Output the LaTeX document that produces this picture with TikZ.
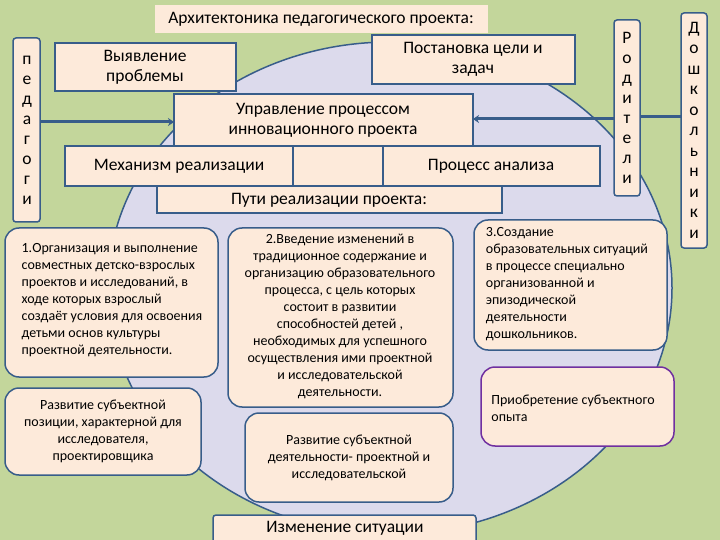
\documentclass[tikz,border=0pt]{standalone}
\usepackage{fontspec}
\setmainfont{Carlito}
\usetikzlibrary{arrows.meta}
\definecolor{bg}{HTML}{C3D69B}
\definecolor{peach}{HTML}{FDEADA}
\definecolor{lav}{HTML}{DCDAEC}
\definecolor{edge}{HTML}{385D8A}
\definecolor{purp}{HTML}{7030A0}
\begin{document}
\begin{tikzpicture}[x=1pt,y=-1pt]
	\tikzstyle{box} = [draw=edge, line width=1.5pt, fill=peach]
	\tikzstyle{rbox} = [box, rounded corners=14pt]
	\tikzstyle{arrow} = [draw=edge, line width=3pt, -{Stealth[length=6pt,width=8pt]}]
	\tikzstyle{big} = [font=\fontsize{17.5}{20}\selectfont, align=center]
	\tikzstyle{small} = [font=\fontsize{14}{17}\selectfont]
	\fill[bg] (0,0) rectangle (720,540);
	\useasboundingbox (0,0) rectangle (720,540);
	\draw[draw=edge, line width=1.5pt, fill=lav] (390,288) ellipse [x radius=282, y radius=246];
	% top
	\fill[peach] (155,5) rectangle (488,33);
	\node (title) [big] at (321,19) {Архитектоника педагогического проекта:};
	\draw[box] (55,43) rectangle (236,91);
	\node (problem) [big] at (145,67) {Выявление\\проблемы};
	\draw[box] (372,35) rectangle (575,84);
	\node (goal) [big] at (473,59) {Постановка цели и\\задач};
	\draw[box] (174,94) rectangle (473,146);
	\node (manage) [big] at (323,120) {Управление процессом\\инновационного проекта};
	\draw[box] (65,146) rectangle (600,186);
	\draw[edge, line width=1.5pt] (293,146) -- (293,186) (383,146) -- (383,186);
	\node (mech) [big] at (179,166) {Механизм реализации};
	\node (anal) [big] at (491,166) {Процесс анализа};
	\draw[box] (157,186) rectangle (502,213);
	\node (ways) [big] at (329,200) {Пути реализации проекта:};
	% side columns
	\draw[box, rounded corners=3pt] (13,38) rectangle (40,222);
	\node (teach) [big] at (27,130) {п\\е\\д\\а\\г\\о\\г\\и};
	\draw[box, rounded corners=3pt] (614,20) rectangle (640,196);
	\node (parents) [big] at (627,108) {Р\\о\\д\\и\\т\\е\\л\\и};
	\draw[box, rounded corners=3pt] (681,13) rectangle (707,248);
	\node (kids) [big, font=\fontsize{17.5}{20.5}\selectfont] at (694,130) {Д\\о\\ш\\к\\о\\л\\ь\\н\\и\\к\\и};
	\coordinate (teachR) at (40,122);
	\coordinate (manL) at (174,122);
	\coordinate (manR) at (473,119);
	\coordinate (parL) at (614,119);
	\coordinate (parR) at (640,117);
	\coordinate (kidL) at (681,117);
	\draw [arrow] (teachR) -- (manL);
	\draw [arrow] (parL) -- (manR);
	\draw [draw=edge, line width=3pt] (kidL) -- (parR);
	% ways
	\draw[rbox] (5,228) rectangle (218,377);
	\node (way1) [small, align=left] at (112,300) {1.Организация и выполнение\\совместных детско-взрослых\\проектов и исследований, в\\ходе которых взрослый\\создаёт условия для освоения\\детьми основ культуры\\проектной деятельности.};
	\draw[rbox] (228,228) rectangle (453,407);
	\node (way2) [small, align=center] at (340,316) {2.Введение изменений в\\традиционное содержание и\\организацию образовательного\\процесса, с цель которых\\состоит в развитии\\способностей детей ,\\необходимых для успешного\\осуществления ими проектной\\и исследовательской\\деятельности.};
	\draw[rbox] (474,220) rectangle (667,350);
	\node (way3) [small, align=left] at (567,284) {3.Создание\\образовательных ситуаций\\в процессе специально\\организованной и\\эпизодической\\деятельности\\дошкольников.};
	\draw[rbox, draw=purp] (481,367) rectangle (674,446);
	\node (exp) [small, align=left] at (573,408) {Приобретение субъектного\\опыта};
	\draw[rbox] (5,388) rectangle (201,475);
	\node (pos) [small, align=center] at (103,431) {Развитие субъектной\\позиции, характерной для\\исследователя,\\проектировщика};
	\draw[rbox] (245,413) rectangle (453,502);
	\node (act) [small, align=center] at (349,458) {Развитие субъектной\\деятельности- проектной и\\исследовательской};
	\draw[box, rounded corners=3pt] (213,515) rectangle (476,545);
	\node (change) [big] at (345,528) {Изменение ситуации};
\end{tikzpicture}
\end{document}
